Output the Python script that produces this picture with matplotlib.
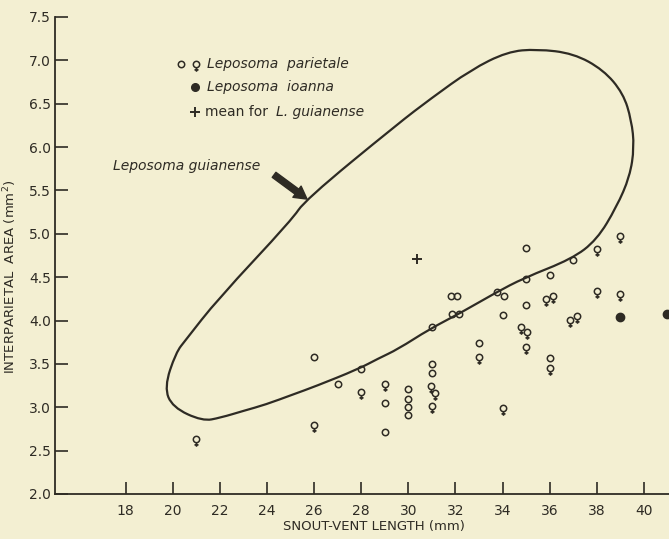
import matplotlib
matplotlib.use("Agg")
import matplotlib.pyplot as plt
from matplotlib.path import Path
from matplotlib.patches import PathPatch
import numpy as np

# ---------- dados ----------
# Leposoma parietale (circulos abertos)
par_o_x = [26, 27, 28, 29, 29, 30, 30, 30, 30, 31, 31, 31, 31.8, 32.05, 31.85, 32.15,
           33, 33.75, 34.05, 34, 35, 35, 35, 36, 36, 37]
par_o_y = [3.58, 3.27, 3.44, 3.05, 2.72, 3.21, 3.10, 3.00, 2.91, 3.50, 3.40, 3.92,
           4.28, 4.28, 4.08, 4.08, 3.74, 4.33, 4.28, 4.06, 4.48, 4.18, 4.84, 4.52, 3.57, 4.70]

# Leposoma parietale (femeas)
par_f_x = [21, 26, 28, 29, 30.95, 31.15, 31, 33, 34, 34.8, 35.05, 35, 36, 35.85, 36.15,
           36.85, 37.15, 38, 38, 39, 39]
par_f_y = [2.63, 2.80, 3.18, 3.27, 3.24, 3.17, 3.01, 3.58, 2.99, 3.93, 3.87, 3.70, 3.45,
           4.25, 4.28, 4.01, 4.05, 4.34, 4.83, 4.31, 4.98]

# Leposoma ioanna
ioa_x = [39, 41]
ioa_y = [4.04, 4.08]

# media de L. guianense
mean_x = [30.38]
mean_y = [4.71]

# contorno de L. guianense
env_x = [21.26, 22.03, 23.02, 23.93, 25.13, 26.04, 27.87, 28.71, 29.56, 30.89, 32.23,
         33.70, 34.90, 36.94, 38.00, 38.84, 39.40, 39.59, 39.47, 39.12, 38.28, 37.01,
         35.46, 34.20, 32.65, 30.96, 29.56, 25.62, 25.05, 21.89, 20.56, 20.13, 19.64, 19.99]
env_y = [2.84, 2.88, 2.96, 3.03, 3.15, 3.24, 3.44, 3.56, 3.67, 3.90, 4.09,
         4.32, 4.49, 4.71, 4.93, 5.31, 5.66, 6.00, 6.31, 6.62, 6.89, 7.08,
         7.13, 7.10, 6.89, 6.56, 6.27, 5.39, 5.16, 4.24, 3.78, 3.63, 3.23, 3.00]

x_ticks = [18, 20, 22, 24, 26, 28, 30, 32, 34, 36, 38, 40]
y_ticks = [2.0, 2.5, 3.0, 3.5, 4.0, 4.5, 5.0, 5.5, 6.0, 6.5, 7.0, 7.5]

# ---------- estilo ----------
bg = "#f3efd2"
ink = "#2e2b24"
plt.rcParams["font.family"] = ["DejaVu Sans"]

# marcador do simbolo feminino (circulo no ponto, cruz embaixo)
femea = Path.make_compound_path(
    Path.unit_circle(),
    Path([(0, -1), (0, -2.3)], [Path.MOVETO, Path.LINETO]),
    Path([(-0.65, -1.7), (0.65, -1.7)], [Path.MOVETO, Path.LINETO]),
)

fig = plt.figure(figsize=(6.69, 5.39), dpi=100, facecolor=bg)
ax = fig.add_axes([0.0822, 0.0835, 0.918, 0.885])
ax.set_facecolor(bg)

# contorno suavizado (b-spline quadratica via curvas de bezier)
px = np.array(env_x)
py = np.array(env_y)
n = len(px)
mx = (px + np.roll(px, -1)) / 2
my = (py + np.roll(py, -1)) / 2
verts = [(mx[-1], my[-1])]
codes = [Path.MOVETO]
for i in range(n):
    verts += [(px[i], py[i]), (mx[i], my[i])]
    codes += [Path.CURVE3, Path.CURVE3]
ax.add_patch(PathPatch(Path(verts, codes), facecolor="none", edgecolor=ink, lw=1.6))

ax.plot(par_o_x, par_o_y, "o", ms=4.6, mfc="none", mec=ink, mew=1.1)
ax.plot(par_f_x, par_f_y, ls="none", marker=femea, ms=10.5, mfc="none", mec=ink, mew=1.1)
ax.plot(ioa_x, ioa_y, "o", ms=6, color=ink, clip_on=True)
ax.plot(mean_x, mean_y, "+", ms=7, mew=1.4, color=ink)

# legenda desenhada a mao
ax.plot([20.34], [6.96], "o", ms=4.6, mfc="none", mec=ink, mew=1.1)
ax.plot([21.0], [6.96], ls="none", marker=femea, ms=10.5, mfc="none", mec=ink, mew=1.1)
ax.text(21.44, 6.96, "Leposoma  parietale", style="italic", fontsize=10, color=ink, va="center")
ax.plot([20.96], [6.69], "o", ms=5.5, color=ink)
ax.text(21.44, 6.69, "Leposoma  ioanna", style="italic", fontsize=10, color=ink, va="center")
ax.plot([20.93], [6.41], "+", ms=7, mew=1.4, color=ink)
ax.text(21.36, 6.41, "mean for", fontsize=10, color=ink, va="center")
ax.text(24.4, 6.41, "L. guianense", style="italic", fontsize=10, color=ink, va="center")

ax.text(17.47, 5.78, "Leposoma guianense", style="italic", fontsize=10, color=ink, va="center")
ax.annotate("", xy=(25.7, 5.40), xytext=(24.3, 5.68),
            arrowprops=dict(arrowstyle="simple,head_length=0.9,head_width=1.0,tail_width=0.45",
                            color=ink, shrinkA=0, shrinkB=0))

ax.set_xlim(15.0, 41.07)
ax.set_ylim(2.0, 7.5)
ax.set_xticks(x_ticks)
ax.set_yticks(y_ticks)
ax.set_yticklabels(["%.1f" % v for v in y_ticks])
ax.tick_params(direction="in", length=9, width=1.2, color=ink, labelcolor=ink, labelsize=10)
ax.tick_params(axis="y", pad=3)
ax.tick_params(axis="x", pad=7)
for s in ["top", "right"]:
    ax.spines[s].set_visible(False)
for s in ["left", "bottom"]:
    ax.spines[s].set_color(ink)
    ax.spines[s].set_linewidth(1.3)

ax.set_xlabel("SNOUT-VENT LENGTH (mm)", fontsize=9.5, color=ink)
ax.xaxis.set_label_coords(0.52, -0.054)
ax.set_ylabel(r"INTERPARIETAL  AREA (mm$^2$)", fontsize=9.5, color=ink)
ax.yaxis.set_label_coords(-0.058, 0.455)

fig.savefig("out.png", dpi=100, facecolor=bg)
